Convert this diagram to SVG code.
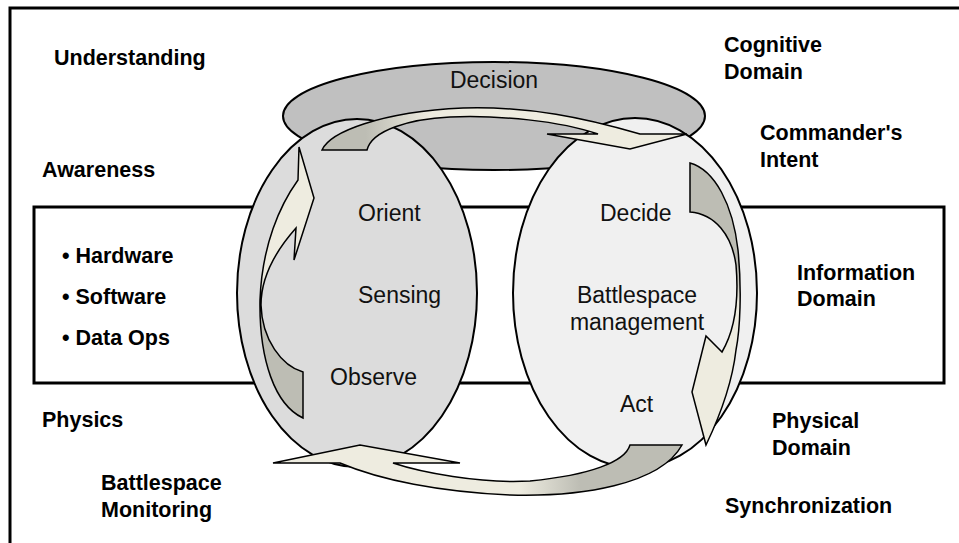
<svg xmlns="http://www.w3.org/2000/svg" width="959" height="543" viewBox="0 0 959 543">
<style>
.lbl{font-family:"Liberation Sans",Arial,sans-serif;font-weight:bold;font-size:21.5px;fill:#000}
.in{font-family:"Liberation Sans",Arial,sans-serif;font-size:23px;fill:#111}
.arrow{stroke:#000;stroke-width:1.5;stroke-linejoin:miter}
.ell{stroke:#000;stroke-width:2}
</style>
<defs>
<linearGradient id="gTop" gradientUnits="userSpaceOnUse" x1="322" y1="140" x2="687" y2="134">
<stop offset="0" stop-color="#bdbdb4"/><stop offset="0.12" stop-color="#bdbdb4"/><stop offset="0.3" stop-color="#eeece0"/><stop offset="1" stop-color="#eeece0"/>
</linearGradient>
<linearGradient id="gRight" gradientUnits="userSpaceOnUse" x1="700" y1="163" x2="705" y2="443">
<stop offset="0" stop-color="#bdbdb4"/><stop offset="0.4" stop-color="#bdbdb4"/><stop offset="0.5" stop-color="#eeece0"/><stop offset="1" stop-color="#eeece0"/>
</linearGradient>
<linearGradient id="gBottom" gradientUnits="userSpaceOnUse" x1="682" y1="455" x2="273" y2="463">
<stop offset="0" stop-color="#bdbdb4"/><stop offset="0.25" stop-color="#bdbdb4"/><stop offset="0.4" stop-color="#eeece0"/><stop offset="1" stop-color="#eeece0"/>
</linearGradient>
<linearGradient id="gLeft" gradientUnits="userSpaceOnUse" x1="290" y1="418" x2="299" y2="147">
<stop offset="0" stop-color="#bdbdb4"/><stop offset="0.42" stop-color="#bdbdb4"/><stop offset="0.52" stop-color="#eeece0"/><stop offset="1" stop-color="#eeece0"/>
</linearGradient>
</defs>
<rect width="959" height="543" fill="#fff"/>
<path d="M10 546 V8 H962" fill="none" stroke="#000" stroke-width="3"/>
<g id="information-domain-box">
<rect x="34" y="207" width="910" height="176" fill="#fff" stroke="#000" stroke-width="3"/>
</g>
<g id="decision">
<ellipse class="ell" cx="494" cy="116" rx="211" ry="54" fill="#c0c0c0"/>
<text class="in" x="494" y="88" text-anchor="middle">Decision</text>
</g>
<g id="sensing">
<ellipse class="ell" cx="357" cy="293" rx="120" ry="174" fill="#dcdcdc"/>
</g>
<g id="battlespace-management">
<ellipse class="ell" cx="635" cy="293" rx="122" ry="175" fill="#f0f0f0"/>
</g>
<g id="connectors">
<path id="arrow-orient-decide" class="arrow" fill="url(#gTop)" d="M322 150 C330 132 380 112 463 108 C530 106 585 118 640 134 L687 134 L630 149 L547 134 L598 134 C560 121 500 115 450 117 C410 119 372 130 367 150 Z"/>
<path id="arrow-decide-act" class="arrow" fill="url(#gRight)" d="M690 163 C715 170 733 205 738 250 C742 290 740 330 736 350 C732 385 718 420 706 445 L692 392 L706 336 L722 352 C735 330 739 300 736 265 C732 235 715 214 690 212 Z"/>
<path id="arrow-act-observe" class="arrow" fill="url(#gBottom)" d="M682 445 L630 445 C625 462 590 475 530 481 C480 484 420 472 393 463 L460 463 L360 445 L273 463 L340 463 C380 480 440 492 510 495 C580 497 660 485 682 445 Z"/>
<path id="arrow-observe-orient" class="arrow" fill="url(#gLeft)" d="M303 418 L303 372 C282 366 262 340 261 305 C261 280 272 255 296 228 L294 260 L314 198 L299 147 L298 180 C280 205 262 245 260 300 C259 360 275 405 303 418 Z"/>
</g>
<g id="inner-labels">
<text class="in" x="358" y="221">Orient</text>
<text class="in" x="358" y="303">Sensing</text>
<text class="in" x="330" y="385">Observe</text>
<text class="in" x="600" y="221">Decide</text>
<text class="in" x="637" y="303" text-anchor="middle">Battlespace</text>
<text class="in" x="637" y="330" text-anchor="middle">management</text>
<text class="in" x="620" y="412">Act</text>
</g>
<g id="side-labels">
<text class="lbl" x="54" y="65">Understanding</text>
<text class="lbl" x="42" y="177">Awareness</text>
<text class="lbl" x="62" y="263">• Hardware</text>
<text class="lbl" x="62" y="304">• Software</text>
<text class="lbl" x="62" y="345">• Data Ops</text>
<text class="lbl" x="42" y="427">Physics</text>
<text class="lbl" x="101" y="490">Battlespace</text>
<text class="lbl" x="101" y="517">Monitoring</text>
<text class="lbl" x="724" y="52">Cognitive</text>
<text class="lbl" x="724" y="79">Domain</text>
<text class="lbl" x="760" y="140">Commander's</text>
<text class="lbl" x="760" y="167">Intent</text>
<text class="lbl" x="797" y="280">Information</text>
<text class="lbl" x="797" y="306">Domain</text>
<text class="lbl" x="772" y="428">Physical</text>
<text class="lbl" x="772" y="455">Domain</text>
<text class="lbl" x="725" y="513">Synchronization</text>
</g>
</svg>
